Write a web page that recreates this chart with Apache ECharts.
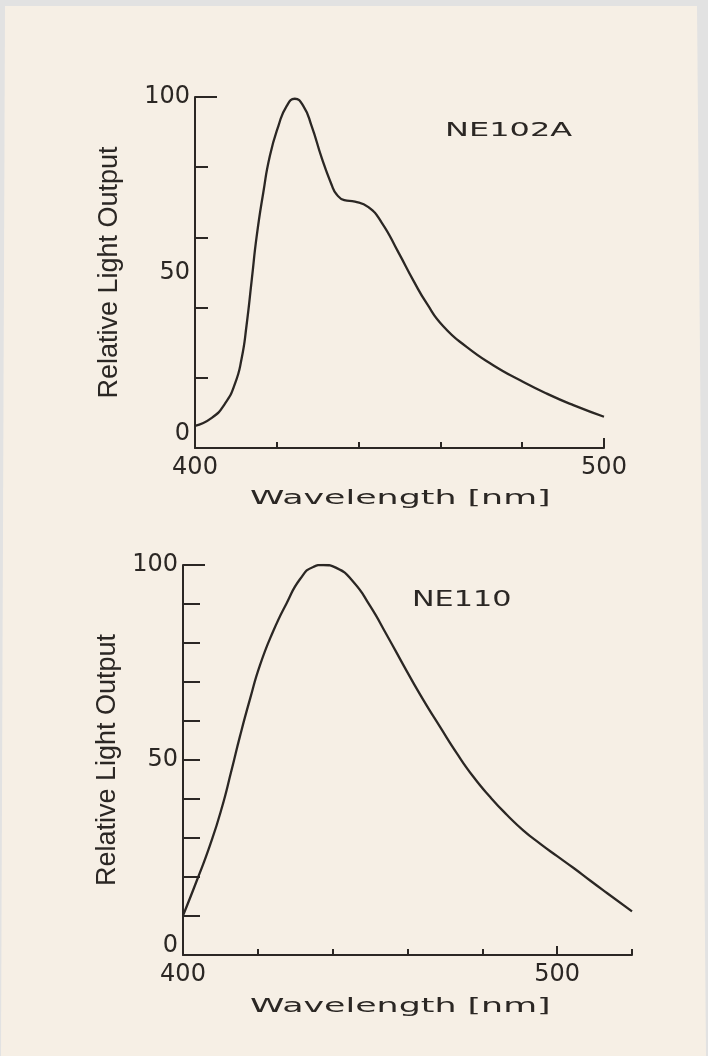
<!DOCTYPE html>
<html>
<head>
<meta charset="utf-8">
<script src="https://cdn.jsdelivr.net/npm/echarts@6/dist/echarts.min.js"></script>
<style>
  html, body { margin: 0; padding: 0; }
  body { width: 708px; height: 1056px; background: #e2e2e2; position: relative; overflow: hidden; }
  #paper { position: absolute; left: 0; top: 0; width: 708px; height: 1056px; background: #f6efe5;
           clip-path: polygon(5px 6px, 697px 6px, 706px 1056px, 1px 1056px); }
  #chart { position: absolute; left: 0; top: 0; width: 708px; height: 1056px; }
</style>
</head>
<body>
<div id="paper"></div>
<div id="chart"></div>
<script>
// ---- data ----
const wavelengthNE102A = [400, 404.1, 407.3, 409.8, 411.4, 412.6, 413.9, 415.1, 416.7, 418.3, 420.4, 422.4, 424.4, 426.5, 428.5, 431.0, 433.4, 434.6, 436.5, 439.1, 442.4, 445.6, 449.7, 453.4, 456.7, 460.7, 466.4, 472.9, 479.5, 486.0, 492.5, 500];
const outputNE102A     = [6.3, 8.6, 12.6, 18.4, 25.5, 34.9, 48.2, 60.5, 72.8, 83.2, 91.8, 97.4, 99.5, 97.4, 91.8, 82.6, 75.0, 72.3, 70.6, 70.2, 68.6, 64.3, 55.8, 47.7, 41.1, 34.7, 28.8, 23.6, 19.3, 15.5, 12.2, 8.9];

const wavelengthNE110 = [400, 403.7, 407.2, 410.3, 413.0, 415.2, 417.9, 420.6, 424.1, 427.7, 431.3, 434.8, 437.5, 441.1, 445.5, 450.0, 454.5, 459.8, 464.3, 468.7, 473.2, 477.6, 482.1, 486.6, 491.0, 495.5, 499.9, 504.4, 508.8, 513.3, 520];
const outputNE110     = [10.1, 19.1, 28.1, 37.5, 47.5, 56.0, 65.6, 74.4, 83.0, 90.2, 96.4, 99.5, 100, 99.2, 95.7, 89.5, 82.0, 72.8, 65.3, 58.5, 51.7, 45.7, 40.5, 35.9, 31.9, 28.5, 25.4, 22.3, 19.1, 15.9, 11.2];

const xTickLabels = [400, 500];
const yTickLabels = [0, 50, 100];
const seriesNames = ['NE102A', 'NE110'];
const xAxisTitle = 'Wavelength [nm]';
const yAxisTitle = 'Relative Light Output';

// ---- style ----
const ink = '#2b2724';
const numFont = 'DejaVu Sans';
const axisLine = { show: true, lineStyle: { color: ink, width: 2 } };

function zip(xs, ys) { return xs.map((x, i) => [x, ys[i]]); }

function yLabel(size, lift) {
  return {
    show: true, customValues: yTickLabels, margin: 5,
    color: ink, fontFamily: numFont, fontSize: size,
    formatter: v => v === 0 ? '{z|0}' : String(v),
    rich: { z: { padding: [0, 0, lift, 0], color: ink, fontFamily: numFont, fontSize: size } }
  };
}

const chart = echarts.init(document.getElementById('chart'), null, { renderer: 'canvas' });

const option = {
  animation: false,
  backgroundColor: 'transparent',
  grid: [
    { left: 195, top: 97, width: 409, height: 351 },
    { left: 183, top: 565, width: 449, height: 390 }
  ],
  xAxis: [
    { gridIndex: 0, type: 'value', position: 'bottom', min: 400, max: 500, interval: 20,
      axisLine: axisLine, splitLine: { show: false },
      axisTick: { show: true, inside: true, length: 6, lineStyle: { color: ink, width: 2 } },
      axisLabel: { show: true, customValues: xTickLabels, margin: 8, color: ink, fontFamily: numFont, fontSize: 24 } },
    { gridIndex: 0, type: 'value', position: 'bottom', min: 400, max: 500, interval: 100,
      axisLine: { show: false }, splitLine: { show: false }, axisLabel: { show: false },
      axisTick: { show: true, inside: true, length: 10, customValues: [500], lineStyle: { color: ink, width: 2 } } },
    { gridIndex: 1, type: 'value', position: 'bottom', min: 400, max: 520, interval: 20,
      axisLine: axisLine, splitLine: { show: false },
      axisTick: { show: true, inside: true, length: 6, lineStyle: { color: ink, width: 2 } },
      axisLabel: { show: true, customValues: xTickLabels, margin: 8, color: ink, fontFamily: numFont, fontSize: 24 } },
    { gridIndex: 1, type: 'value', position: 'bottom', min: 400, max: 520, interval: 20,
      axisLine: { show: false }, splitLine: { show: false }, axisLabel: { show: false },
      axisTick: { show: true, inside: true, length: 9, customValues: [500], lineStyle: { color: ink, width: 2 } } }
  ],
  yAxis: [
    { gridIndex: 0, type: 'value', position: 'left', min: 0, max: 100, interval: 20,
      axisLine: axisLine, splitLine: { show: false },
      axisTick: { show: true, inside: true, length: 13, lineStyle: { color: ink, width: 2 } },
      axisLabel: yLabel(24, 28),
      name: yAxisTitle, nameLocation: 'middle', nameGap: 72,
      nameTextStyle: { color: ink, fontFamily: 'Liberation Sans', fontSize: 27 } },
    { gridIndex: 0, type: 'value', position: 'left', min: 0, max: 100, interval: 100,
      axisLine: { show: false }, splitLine: { show: false }, axisLabel: { show: false },
      axisTick: { show: true, inside: true, length: 22, customValues: [100], lineStyle: { color: ink, width: 2 } } },
    { gridIndex: 1, type: 'value', position: 'left', min: 0, max: 100, interval: 10,
      axisLine: axisLine, splitLine: { show: false },
      axisTick: { show: true, inside: true, length: 17, lineStyle: { color: ink, width: 2 } },
      axisLabel: yLabel(24, 18),
      name: yAxisTitle, nameLocation: 'middle', nameGap: 60,
      nameTextStyle: { color: ink, fontFamily: 'Liberation Sans', fontSize: 27 } },
    { gridIndex: 1, type: 'value', position: 'left', min: 0, max: 100, interval: 100,
      axisLine: { show: false }, splitLine: { show: false }, axisLabel: { show: false },
      axisTick: { show: true, inside: true, length: 22, customValues: [100], lineStyle: { color: ink, width: 2 } } }
  ],
  series: [
    { name: seriesNames[0], type: 'line', xAxisIndex: 0, yAxisIndex: 0,
      data: zip(wavelengthNE102A, outputNE102A), smooth: 0.55, symbol: 'none',
      lineStyle: { color: ink, width: 2.3 } },
    { name: seriesNames[1], type: 'line', xAxisIndex: 2, yAxisIndex: 2,
      data: zip(wavelengthNE110, outputNE110), smooth: 0.55, symbol: 'none',
      lineStyle: { color: ink, width: 2.3 } }
  ],
  graphic: [
    { type: 'text', x: 445, y: 121, scaleX: 1.6,
      style: { text: seriesNames[0], fill: ink, fontFamily: numFont, fontSize: 20, textVerticalAlign: 'top' } },
    { type: 'text', x: 412, y: 590, scaleX: 1.44,
      style: { text: seriesNames[1], fill: ink, fontFamily: numFont, fontSize: 21, textVerticalAlign: 'top' } },
    { type: 'text', x: 250, y: 489, scaleX: 1.74,
      style: { text: xAxisTitle, fill: ink, fontFamily: numFont, fontSize: 20, textVerticalAlign: 'top' } },
    { type: 'text', x: 250, y: 997, scaleX: 1.74,
      style: { text: xAxisTitle, fill: ink, fontFamily: numFont, fontSize: 20, textVerticalAlign: 'top' } }
  ]
};

chart.setOption(option);
</script>
</body>
</html>
